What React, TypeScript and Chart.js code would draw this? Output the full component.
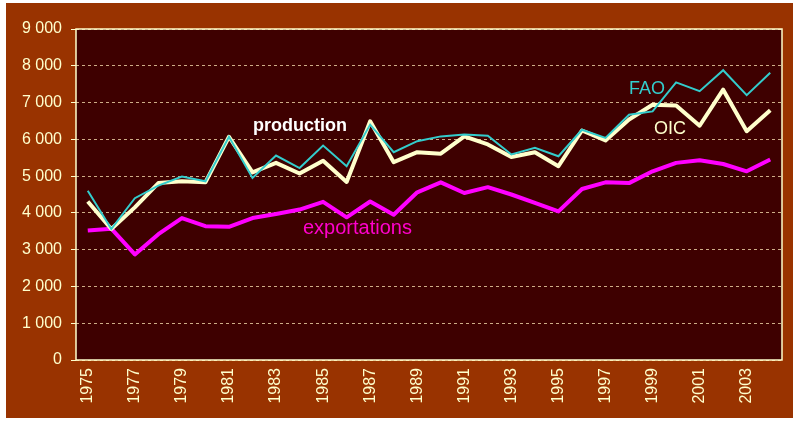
import React, { useEffect, useRef } from "react";
import { Chart, registerables } from "chart.js";

Chart.register(...registerables);

const years = [
  "1975", "1976", "1977", "1978", "1979", "1980", "1981", "1982", "1983", "1984",
  "1985", "1986", "1987", "1988", "1989", "1990", "1991", "1992", "1993", "1994",
  "1995", "1996", "1997", "1998", "1999", "2000", "2001", "2002", "2003", "2004",
];

const faoValues = [
  4600, 3560, 4400, 4740, 4990, 4860, 6070, 4950, 5560, 5220,
  5830, 5270, 6400, 5650, 5950, 6080, 6130, 6100, 5590, 5770,
  5540, 6260, 6040, 6670, 6760, 7550, 7310, 7880, 7200, 7810,
];

const oicValues = [
  4310, 3560, 4150, 4810, 4860, 4830, 6070, 5100, 5360, 5070,
  5420, 4840, 6490, 5380, 5650, 5610, 6080, 5860, 5520, 5650,
  5270, 6240, 5970, 6540, 6940, 6920, 6370, 7350, 6220, 6790,
];

const exportValues = [
  3520, 3570, 2870, 3420, 3860, 3640, 3620, 3860, 3970, 4090,
  4300, 3880, 4310, 3950, 4560, 4830, 4540, 4700, 4500, 4270,
  4040, 4650, 4830, 4810, 5130, 5360, 5430, 5330, 5130, 5450,
];

const yTicks = [0, 1000, 2000, 3000, 4000, 5000, 6000, 7000, 8000, 9000];

const FONT = "Arial, 'Liberation Sans', sans-serif";
const CREAM = "#FFFFCC";

function fmt(v: number): string {
  return String(v).replace(/\B(?=(\d{3})+(?!\d))/g, " ");
}

export default function App() {
  const ref = useRef<HTMLCanvasElement | null>(null);

  useEffect(() => {
    if (!ref.current) return;

    const bgPlugin = {
      id: "bg",
      beforeDraw(chart: any) {
        const { ctx, chartArea } = chart;
        ctx.save();
        ctx.fillStyle = "#ffffff";
        ctx.fillRect(0, 0, chart.width, chart.height);
        ctx.fillStyle = "#993300";
        ctx.fillRect(6, 3, 787, 415);
        ctx.fillStyle = "#3e0000";
        ctx.fillRect(chartArea.left, chartArea.top, chartArea.right - chartArea.left, chartArea.bottom - chartArea.top);
        ctx.restore();
      },
      beforeDatasetsDraw(chart: any) {
        const { ctx, chartArea } = chart;
        ctx.save();
        ctx.strokeStyle = CREAM;
        ctx.lineWidth = 1.5;
        ctx.strokeRect(chartArea.left, chartArea.top, chartArea.right - chartArea.left, chartArea.bottom - chartArea.top);
        ctx.restore();
      },
      afterDatasetsDraw(chart: any) {
        const { ctx } = chart;
        ctx.save();
        ctx.textAlign = "left";
        ctx.textBaseline = "alphabetic";
        ctx.fillStyle = "#ffffff";
        ctx.font = `bold 18px ${FONT}`;
        ctx.fillText("production", 253, 131);
        ctx.fillStyle = "#33CCCC";
        ctx.font = `18px ${FONT}`;
        ctx.fillText("FAO", 629, 94);
        ctx.fillStyle = CREAM;
        ctx.fillText("OIC", 654, 134);
        ctx.fillStyle = "#FF00CC";
        ctx.font = `20px ${FONT}`;
        ctx.fillText("exportations", 303, 234);
        ctx.restore();
      },
    };

    const chart = new Chart(ref.current, {
      type: "line",
      data: {
        labels: years,
        datasets: [
          {
            label: "FAO",
            data: faoValues,
            borderColor: "#33CCCC",
            borderWidth: 2,
            pointRadius: 0,
            tension: 0,
            fill: false,
          },
          {
            label: "OIC",
            data: oicValues,
            borderColor: CREAM,
            borderWidth: 4,
            pointRadius: 0,
            tension: 0,
            fill: false,
            borderJoinStyle: "round",
          },
          {
            label: "exportations",
            data: exportValues,
            borderColor: "#FF00FF",
            borderWidth: 4,
            pointRadius: 0,
            tension: 0,
            fill: false,
            borderJoinStyle: "round",
          },
        ],
      },
      options: {
        responsive: false,
        animation: false,
        events: [],
        layout: { padding: { left: 0, top: 29, right: 18, bottom: 0 } },
        plugins: {
          legend: { display: false },
          tooltip: { enabled: false },
          title: { display: false },
        },
        scales: {
          x: {
            offset: true,
            grid: { display: false, drawTicks: false, offset: true },
            border: { display: false },
            ticks: {
              autoSkip: false,
              maxRotation: 90,
              minRotation: 90,
              padding: 8,
              color: CREAM,
              font: { family: FONT, size: 16 },
              callback: (_v: any, i: number) => (i % 2 === 0 ? years[i] : ""),
            },
            afterFit: (s: any) => {
              s.height = 66;
            },
          },
          y: {
            min: 0,
            max: 9000,
            afterBuildTicks: (s: any) => {
              s.ticks = yTicks.map((v) => ({ value: v }));
            },
            grid: {
              color: "rgba(255,230,180,0.75)",
              lineWidth: 1,
              tickLength: 5,
              tickColor: CREAM,
              tickBorderDash: [],
            },
            border: { display: false, dash: [3, 3] },
            ticks: {
              padding: 9,
              color: CREAM,
              font: { family: FONT, size: 16 },
              callback: (v: any) => fmt(Number(v)),
            },
            afterFit: (s: any) => {
              s.width = 76;
            },
          },
        },
      },
      plugins: [bgPlugin],
    } as any);

    return () => chart.destroy();
  }, []);

  return (
    <div style={{ position: "fixed", left: 0, top: 0, width: 800, height: 426 }}>
      <canvas ref={ref} width={800} height={426} style={{ display: "block" }} />
    </div>
  );
}
